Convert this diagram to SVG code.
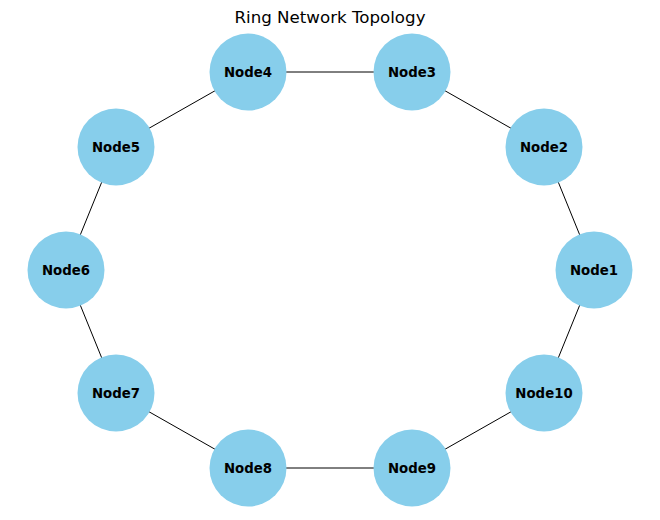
<svg xmlns="http://www.w3.org/2000/svg" width="660" height="520" viewBox="0 0 660 520">
<style>
.node circle{fill:#87CEEB;}
.node text{font-family:"DejaVu Sans",sans-serif;font-weight:bold;font-size:13.3px;text-anchor:middle;dominant-baseline:central;fill:#000;}
.edges line{stroke:#000;stroke-width:1;}
.title{font-family:"DejaVu Sans",sans-serif;font-size:16.67px;text-anchor:middle;fill:#000;}
</style>
<rect width="660" height="520" fill="#fff"/>
<text class="title" x="330" y="22.5">Ring Network Topology</text>
<g id="connectors" class="edges">
<line x1="594" y1="270" x2="544" y2="147"/>
<line x1="544" y1="147" x2="412" y2="72"/>
<line x1="412" y1="72" x2="248" y2="72"/>
<line x1="248" y1="72" x2="116" y2="147"/>
<line x1="116" y1="147" x2="66" y2="270"/>
<line x1="66" y1="270" x2="116" y2="393"/>
<line x1="116" y1="393" x2="248" y2="468"/>
<line x1="248" y1="468" x2="412" y2="468"/>
<line x1="412" y1="468" x2="544" y2="393"/>
<line x1="544" y1="393" x2="594" y2="270"/>
</g>
<g id="node1" class="node"><circle cx="594" cy="270" r="38.5"/><text x="594" y="270">Node1</text></g>
<g id="node2" class="node"><circle cx="544" cy="147" r="38.5"/><text x="544" y="147">Node2</text></g>
<g id="node3" class="node"><circle cx="412" cy="72" r="38.5"/><text x="412" y="72">Node3</text></g>
<g id="node4" class="node"><circle cx="248" cy="72" r="38.5"/><text x="248" y="72">Node4</text></g>
<g id="node5" class="node"><circle cx="116" cy="147" r="38.5"/><text x="116" y="147">Node5</text></g>
<g id="node6" class="node"><circle cx="66" cy="270" r="38.5"/><text x="66" y="270">Node6</text></g>
<g id="node7" class="node"><circle cx="116" cy="393" r="38.5"/><text x="116" y="393">Node7</text></g>
<g id="node8" class="node"><circle cx="248" cy="468" r="38.5"/><text x="248" y="468">Node8</text></g>
<g id="node9" class="node"><circle cx="412" cy="468" r="38.5"/><text x="412" y="468">Node9</text></g>
<g id="node10" class="node"><circle cx="544" cy="393" r="38.5"/><text x="544" y="393">Node10</text></g>
</svg>
